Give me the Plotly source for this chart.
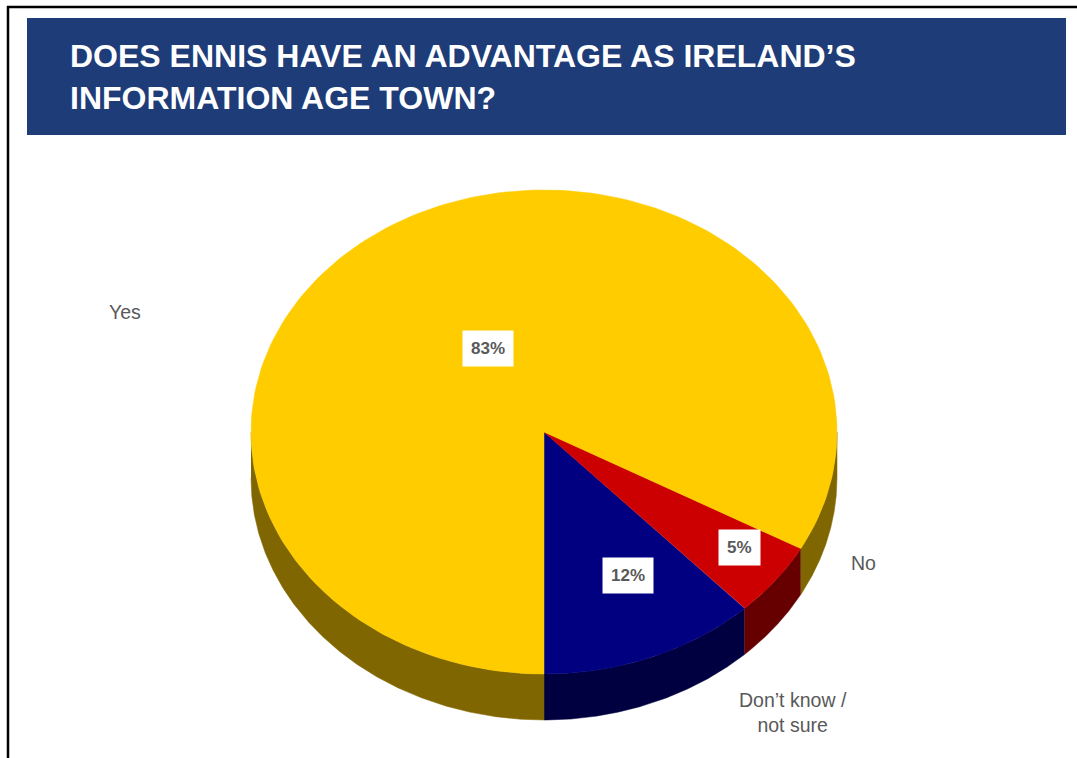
import numpy as np
import plotly.graph_objects as go

# Survey answers, listed counter-clockwise starting from six o'clock
categories = ["Don\u2019t know /<br>not sure", "No", "Yes"]
values = [12, 5, 83]
top_colors = ["#000080", "#CC0000", "#FFCC00"]
side_colors = ["#000040", "#660000", "#806600"]

title_text = "DOES ENNIS HAVE AN ADVANTAGE AS IRELAND\u2019S<br>INFORMATION AGE TOWN?"

W, H = 1077, 758
CX, CY = 544, 432          # centre of the pie's top face
RX, RY = 293, 242          # ellipse radii of the tilted disc
DEPTH = 46                 # thickness of the disc
FONT = "Arial, Liberation Sans, sans-serif"

fig = go.Figure()


def arc(t0, t1, n=200):
    t = np.radians(np.linspace(t0, t1, n))
    return CX + RX * np.cos(t), CY - RY * np.sin(t)


# angular extents from the values
total = float(sum(values))
fracs = np.array(values) / total
starts = -90 + 360 * np.concatenate([[0], np.cumsum(fracs)[:-1]])
ends = starts + 360 * fracs

# side walls: only the front half of the rim (-180..0 degrees) is visible
for t0, t1, col in zip(starts, ends, side_colors):
    for off in (-360, 0, 360):
        lo, hi = max(t0, -180 + off), min(t1, 0 + off)
        if hi > lo:
            xs, ys = arc(lo, hi)
            px = np.concatenate([xs, xs[::-1]])
            py = np.concatenate([ys, ys[::-1] + DEPTH])
            fig.add_trace(go.Scatter(
                x=px, y=py, mode="lines", fill="toself", fillcolor=col,
                line=dict(color=col, width=0.5), hoverinfo="skip",
                showlegend=False))

# top faces
for t0, t1, col in zip(starts, ends, top_colors):
    xs, ys = arc(t0, t1)
    px = np.concatenate([[CX], xs, [CX]])
    py = np.concatenate([[CY], ys, [CY]])
    fig.add_trace(go.Scatter(
        x=px, y=py, mode="lines", fill="toself", fillcolor=col,
        line=dict(color=col, width=0.5), hoverinfo="skip", showlegend=False))

# percentage boxes
pct_pos = [(628, 575), (739, 547), (488, 348)]
for v, (x, y) in zip(values, pct_pos):
    fig.add_annotation(
        x=x, y=y, xref="x", yref="y", text=f"<b>{v}%</b>", showarrow=False,
        font=dict(family=FONT, size=17, color="#595959"),
        bgcolor="white", borderpad=8, xanchor="center", yanchor="middle")

# category labels
cat_pos = [(793, 712), (863, 563), (125, 312)]
for name, (x, y) in zip(categories, cat_pos):
    fig.add_annotation(
        x=x, y=y, xref="x", yref="y", text=name, showarrow=False,
        font=dict(family=FONT, size=19.5, color="#595959"),
        align="center", xanchor="center", yanchor="middle")

# title banner
fig.add_shape(type="rect", x0=27, x1=1066, y0=18, y1=135, xref="x", yref="y",
              fillcolor="#1E3C78", line=dict(width=0), layer="below")
fig.add_annotation(
    x=68, y=77, xref="x", yref="y", text=f"<b>{title_text}</b>",
    showarrow=False, align="left", xanchor="left", yanchor="middle",
    font=dict(family=FONT, size=32, color="white"))

# page frame
fig.add_shape(type="line", x0=7, x1=W, y0=7, y1=7, xref="x", yref="y",
              line=dict(color="black", width=2.5))
fig.add_shape(type="line", x0=8, x1=8, y0=6, y1=H, xref="x", yref="y",
              line=dict(color="black", width=2.5))

fig.update_xaxes(range=[0, W], visible=False, fixedrange=True)
fig.update_yaxes(range=[H, 0], visible=False, fixedrange=True)
fig.update_layout(
    width=W, height=H, autosize=False,
    margin=dict(l=0, r=0, t=0, b=0),
    paper_bgcolor="white", plot_bgcolor="white",
)

fig.write_html("out.html")
